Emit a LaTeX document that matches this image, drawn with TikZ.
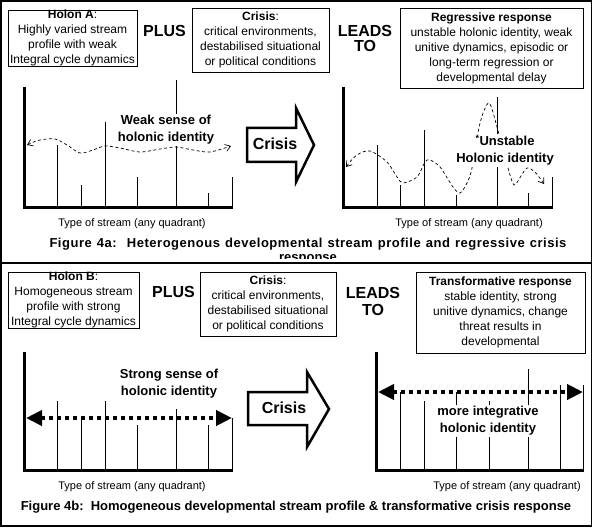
\documentclass[tikz,border=0pt]{standalone}
\usepackage{fontspec}
\setmainfont{Liberation Sans}
\usetikzlibrary{arrows.meta}

\begin{document}
\begin{tikzpicture}[x=1pt, y=-1pt,
infobox/.style={draw, line width=0.8pt, align=center, inner sep=0pt, font=\fontsize{12}{15}\selectfont},
bigword/.style={align=center, font=\bfseries\fontsize{16}{16}\selectfont},
chartlabel/.style={fill=white, align=center, inner sep=1pt, font=\bfseries\fontsize{13}{17}\selectfont},
axislabel/.style={font=\fontsize{11}{13}\selectfont},
caption/.style={align=center, font=\bfseries\fontsize{13}{14}\selectfont},
axis/.style={line width=3pt},
bar/.style={line width=0.8pt},
wave/.style={line width=0.7pt, dash pattern=on 3pt off 2.5pt, {Straight Barb[length=5pt,width=7pt]}-{Straight Barb[length=5pt,width=7pt]}},
dotarr/.style={line width=4pt, dash pattern=on 4pt off 4pt, {Triangle[length=16pt,width=15pt]}-{Triangle[length=16pt,width=15pt]}},
crisisarrow/.style={line width=2.5pt, line join=miter}
]
\useasboundingbox (0,0) rectangle (593,529);
\fill[white] (0,0) rectangle (593,529);

% frame and divider
\draw[line width=1.5pt] (1,1) rectangle (591.5,526);
\draw[line width=1.5pt] (1,263) -- (591.5,263);

% ---------- Figure 4a ----------
\node[infobox, minimum width=129pt, minimum height=56pt] (holonA) at (72.5,38) {\textbf{Holon A}:\\Highly varied stream\\profile with weak\\Integral cycle dynamics};
\node[bigword] (plusA) at (164.5,31) {PLUS};
\node[infobox, minimum width=137pt, minimum height=64pt] (condA) at (260.5,40) {\textbf{Crisis}:\\critical environments,\\destabilised situational\\or political conditions};
\node[bigword, font=\bfseries\fontsize{16}{15}\selectfont] (leadsA) at (365,38) {LEADS\\TO};
\node[infobox, minimum width=183pt, minimum height=80pt] (responseA) at (491.5,48) {\textbf{Regressive response}\\unstable holonic identity, weak\\unitive dynamics, episodic or\\long-term regression or\\developmental delay};

% left profile
\draw[axis] (24,87) -- (24,207) -- (233,207);
\foreach \x/\h in {57/145, 81/185, 105/122, 137/177, 176/80, 208/193, 232/177}
  \draw[bar] (\x,207) -- (\x,\h);
\draw[wave] plot[smooth] coordinates {(27,145) (40,140) (55,139) (67,145) (80,153) (93,150) (105,146) (120,148) (140,152) (160,149) (176,147) (193,150) (210,152) (231,146)};
\node[chartlabel] (weakA) at (166,130) {Weak sense of\\holonic identity};
\node[axislabel] (typeA1) at (132,224) {Type of stream (any quadrant)};

% crisis arrow
\draw[crisisarrow] (247,128) -- (296,128) -- (296,108) -- (314,145) -- (296,182) -- (296,162) -- (247,162) -- cycle;
\node[bigword] (crisisA) at (275,144) {Crisis};

% right profile
\draw[axis] (343,87) -- (343,207) -- (553,207);
\foreach \x/\h in {377/145, 400/185, 424/130, 456/195, 497/97, 528/193, 552/177}
  \draw[bar] (\x,207) -- (\x,\h);
\draw[wave] plot[smooth] coordinates {(346,167) (357,155) (370,151) (387,162) (397,177) (403,183) (417,177) (425,162) (430,160) (440,167) (453,187) (460,193) (467,183) (472,168) (480,123) (489,103) (497,127) (503,150) (508,168) (514,185) (521,176) (527,168) (535,172) (544,184)};
\node[chartlabel] (unstableA) at (505,150.5) {\textsuperscript{*}Unstable\\Holonic identity};
\node[axislabel] (typeA2) at (469,224) {Type of stream (any quadrant)};

\begin{scope}
\clip (0,0) rectangle (593,258);
\node[caption] (captionA) at (308,251.5) {\addfontfeature{LetterSpace=4}\makebox[517pt][s]{Figure 4a:\ \ Heterogenous developmental stream profile and regressive crisis}\\response};
\end{scope}

% ---------- Figure 4b ----------
\node[infobox, minimum width=131pt, minimum height=56pt] (holonB) at (73.5,300) {\textbf{Holon B}:\\Homogeneous stream\\profile with strong\\Integral cycle dynamics};
\node[bigword] (plusB) at (173.5,292) {PLUS};
\node[infobox, minimum width=136pt, minimum height=64pt] (condB) at (268,304) {\textbf{Crisis}:\\critical environments,\\destabilised situational\\or political conditions};
\node[bigword, font=\bfseries\fontsize{16}{17}\selectfont] (leadsB) at (373,301.5) {LEADS\\TO};
\node[infobox, minimum width=169pt, minimum height=81pt] (responseB) at (500.5,312.5) {\textbf{Transformative response}\\stable identity, strong\\unitive dynamics, change\\threat results in\\developmental};

% left profile
\draw[axis] (24,352) -- (24,470) -- (233,470);
\foreach \x/\h in {57/401, 81/420, 105/401, 137/425, 176/409, 208/425, 232/418}
  \draw[bar] (\x,470) -- (\x,\h);
\coordinate (leftB1) at (26,418);
\coordinate (rightB1) at (232,418);
\draw[dotarr] (leftB1) -- (rightB1);
\node[chartlabel] (strongB) at (169,383.5) {Strong sense of\\holonic identity};
\node[axislabel] (typeB1) at (132,487) {Type of stream (any quadrant)};

% crisis arrow
\draw[crisisarrow] (248,392) -- (307,392) -- (307,372) -- (329,409) -- (307,447) -- (307,425) -- (248,425) -- cycle;
\node[bigword] (crisisB) at (284,408) {Crisis};

% right profile
\draw[axis] (376,352) -- (376,470) -- (584,470);
\foreach \x/\h in {400/392, 424/401, 456/392, 489/401, 528/369, 560/385, 583/385}
  \draw[bar] (\x,470) -- (\x,\h);
\coordinate (leftB2) at (378,392);
\coordinate (rightB2) at (583,392);
\draw[dotarr] (leftB2) -- (rightB2);
\node[chartlabel] (integrB) at (488,421) {more integrative\\holonic identity};
\node[axislabel] (typeB2) at (507,487) {Type of stream (any quadrant)};

\node[caption] (captionB) at (296,507) {Figure 4b:\ \ Homogeneous developmental stream profile \& transformative crisis response};
\end{tikzpicture}
\end{document}
